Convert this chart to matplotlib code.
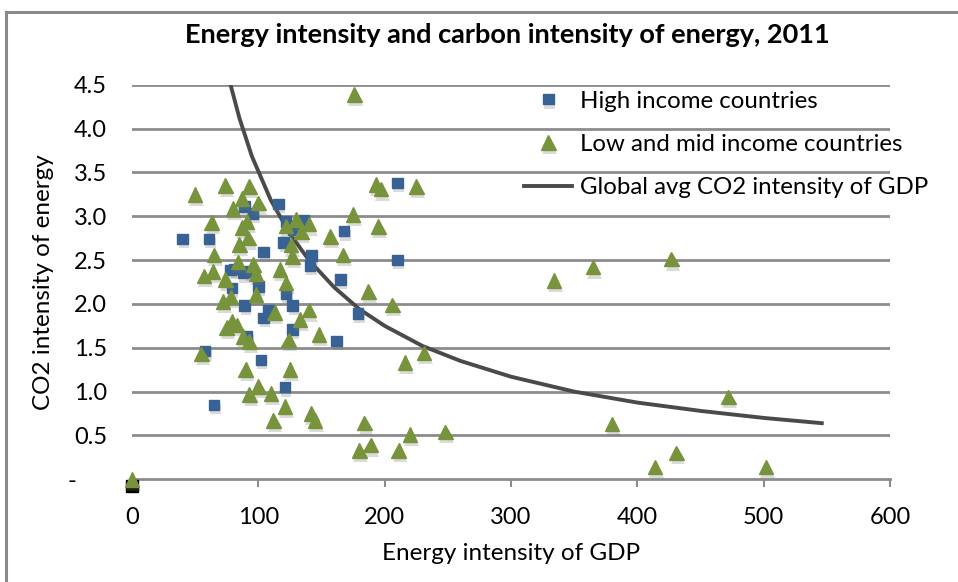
import matplotlib
matplotlib.use("Agg")
import matplotlib.pyplot as plt
import matplotlib.patheffects as pe
from matplotlib.lines import Line2D

plt.rcParams['font.family'] = ['Lato', 'DejaVu Sans']

# High income countries: energy intensity of GDP vs CO2 intensity of energy
high_x = [40, 61, 65, 58, 89, 96, 116, 210, 168, 104, 120, 122, 136, 128, 142,
          141, 210, 165, 179, 162, 78, 81, 88, 93, 79, 100, 122, 89, 127, 108,
          104, 127, 91, 102, 121]
high_y = [2.74, 2.74, 0.85, 1.46, 3.11, 3.03, 3.14, 3.38, 2.83, 2.59, 2.70, 2.94,
          2.96, 2.85, 2.55, 2.44, 2.50, 2.28, 1.89, 1.58, 2.39, 2.40, 2.35, 2.37,
          2.18, 2.20, 2.12, 1.98, 1.98, 1.93, 1.84, 1.71, 1.63, 1.36, 1.05]

# Low and mid income countries
low_x = [0, 50, 74, 93, 87, 100, 80, 63, 87, 91, 92, 85, 65, 57, 64, 74, 96, 98,
         98, 84, 72, 78, 75, 79, 83, 88, 93, 55, 90, 100, 110, 93, 112, 121, 125,
         124, 117, 122, 126, 127, 122, 130, 140, 134, 157, 167, 175, 176, 193, 197,
         225, 195, 187, 206, 140, 113, 133, 148, 231, 216, 142, 145, 184, 220, 248,
         180, 189, 211, 334, 365, 427, 472, 380, 414, 431, 502]
low_y = [0.0, 3.25, 3.35, 3.34, 3.20, 3.15, 3.09, 2.93, 2.87, 2.94, 2.75, 2.68,
         2.56, 2.32, 2.37, 2.28, 2.45, 2.35, 2.11, 2.48, 2.03, 2.08, 1.73, 1.80,
         1.76, 1.63, 1.57, 1.43, 1.25, 1.06, 0.98, 0.97, 0.67, 0.83, 1.25, 1.59,
         2.39, 2.24, 2.67, 2.54, 2.89, 2.96, 2.91, 2.82, 2.77, 2.56, 3.02, 4.39,
         3.36, 3.31, 3.34, 2.88, 2.14, 1.99, 1.93, 1.90, 1.82, 1.65, 1.44, 1.33,
         0.75, 0.67, 0.64, 0.51, 0.54, 0.33, 0.39, 0.33, 2.27, 2.42, 2.51, 0.94,
         0.63, 0.14, 0.30, 0.14]

# point plotted at the origin (shows dark under the triangle)
origin_x = [0]
origin_y = [-0.08]

# Global average CO2 intensity of GDP (curve)
curve_x = [78, 85, 95, 110, 125, 140, 160, 180, 200, 230, 260, 300, 350, 400,
           450, 500, 546]
curve_y = [4.50, 4.12, 3.68, 3.18, 2.80, 2.50, 2.19, 1.94, 1.75, 1.52, 1.35,
           1.17, 1.00, 0.875, 0.78, 0.70, 0.64]

xticks = [0, 100, 200, 300, 400, 500, 600]
yticks = [0, 0.5, 1.0, 1.5, 2.0, 2.5, 3.0, 3.5, 4.0, 4.5]
ytick_labels = ['-     ', '0.5', '1.0', '1.5', '2.0', '2.5', '3.0', '3.5', '4.0', '4.5']

blue = '#386194'
green = '#77933C'
grid_col = '#8c8c8c'

fig = plt.figure(figsize=(9.58, 5.82), dpi=100)
ax = fig.add_axes([132 / 958, 1 - 479.3 / 582, 758 / 958, 394.6 / 582])

for y in yticks[1:]:
    ax.axhline(y, color=grid_col, lw=2.0, zorder=1)

shadow = [pe.SimplePatchShadow(offset=(1, -3), shadow_rgbFace='0.45', alpha=0.25), pe.Normal()]

ax.plot(curve_x, curve_y, color='#4a4a4a', lw=2.8, zorder=2,
        label='Global avg CO2 intensity of GDP')
ax.plot(origin_x, origin_y, 's', color='black', ms=8, zorder=3, clip_on=False)
ax.plot(high_x, high_y, 's', color=blue, ms=7.5, zorder=4, ls='none',
        clip_on=False, path_effects=shadow, label='High income countries')
ax.plot(low_x, low_y, '^', color=green, ms=10.5, zorder=5, ls='none',
        clip_on=False, path_effects=shadow, label='Low and mid income countries')

ax.set_xlim(0, 600)
ax.set_ylim(0, 4.5)
ax.set_xticks(xticks)
ax.set_yticks(yticks)
ax.set_yticklabels(ytick_labels)
for s in ['top', 'right', 'left']:
    ax.spines[s].set_visible(False)
ax.spines['bottom'].set_color(grid_col)
ax.spines['bottom'].set_linewidth(2.0)
ax.tick_params(axis='x', direction='out', length=6, width=1.5, color=grid_col,
               labelsize=17, pad=14)
ax.tick_params(axis='y', length=0, labelsize=17, pad=18)

ax.set_xlabel('Energy intensity of GDP', fontsize=17.5, labelpad=11)
ax.set_ylabel('CO2 intensity of energy', fontsize=17.5, labelpad=10)
fig.text(0.530, 1 - 35 / 582, 'Energy intensity and carbon intensity of energy, 2011',
         ha='center', va='center', fontsize=19.5, fontweight='bold')

h = ax.get_legend_handles_labels()
order = [1, 2, 0]
ax.legend([h[0][i] for i in order], [h[1][i] for i in order],
          loc='upper left', bbox_to_anchor=(0.489, 1.04), frameon=False,
          fontsize=17.3, handlelength=2.0, handletextpad=0.3, labelspacing=0.93)

# chart area border (left and top edges visible)
fig.add_artist(Line2D([5.5 / 958, 5.5 / 958], [0, 1 - 12 / 582], color='#8a8a8a', lw=2.2))
fig.add_artist(Line2D([5.5 / 958, 1], [1 - 12 / 582, 1 - 12 / 582], color='#8a8a8a', lw=2.2))

fig.savefig('out.png', dpi=100)
